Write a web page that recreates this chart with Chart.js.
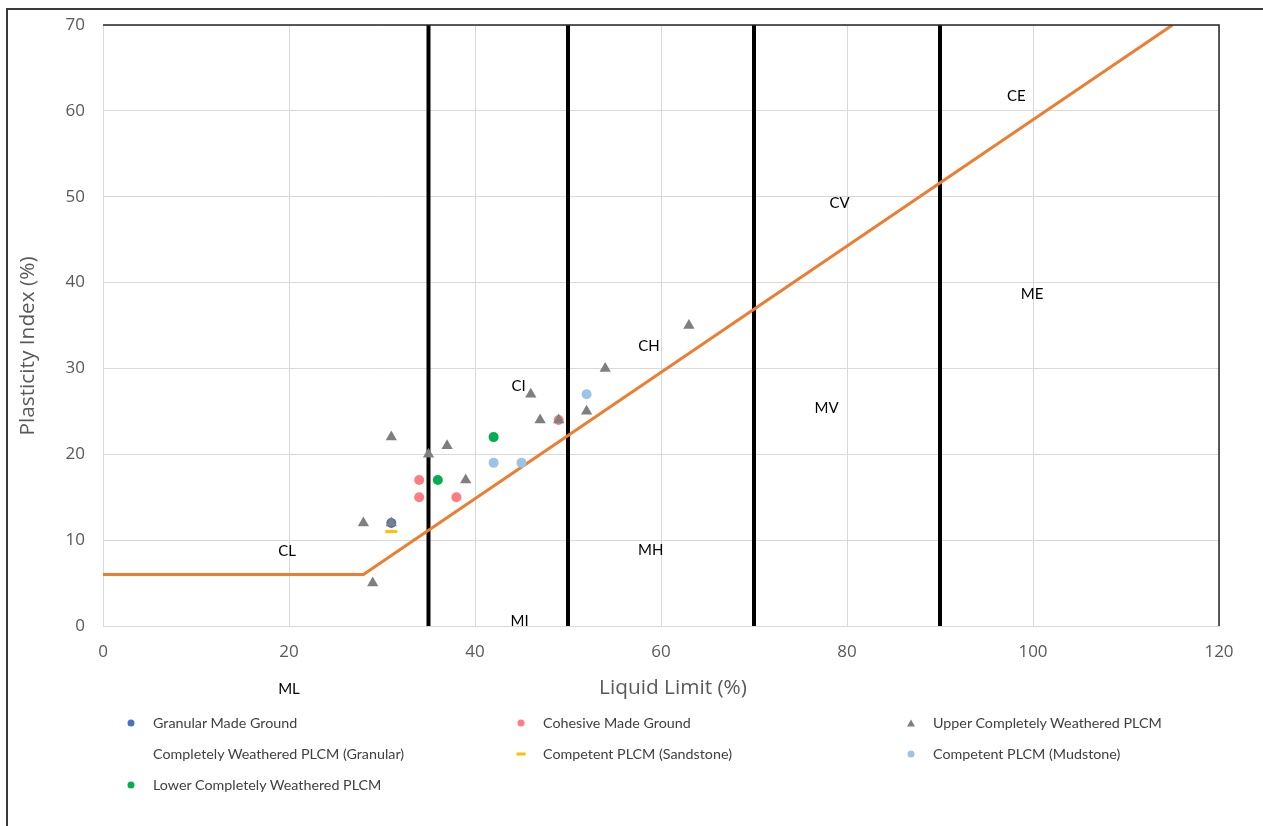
<!DOCTYPE html>
<html>
<head>
<meta charset="utf-8">
<script src="https://cdn.jsdelivr.net/npm/chart.js@4.4.1/dist/chart.umd.min.js"></script>
<style>
  html, body { margin: 0; padding: 0; background: #fff; width: 1263px; height: 826px; overflow: hidden; }
  #frame { position: absolute; left: 6px; top: 8px; width: 1400px; height: 1000px;
           border-left: 2px solid #3a3a3a; border-top: 2px solid #3a3a3a; }
  #wrap { position: absolute; left: 0; top: 0; width: 1263px; height: 720px; }
  #legend { position: absolute; left: 0; top: 0; width: 1263px; height: 826px;
            font-family: Lato, "Open Sans", sans-serif; font-size: 14.3px; color: #404040; pointer-events: none; }
  .lab { position: absolute; white-space: nowrap; line-height: 16px; transform: translateY(-50%); }
  .mk { position: absolute; transform: translate(-50%, -50%); }
  .dot { width: 7px; height: 7px; border-radius: 50%; }
  .tri { width: 0; height: 0; border-left: 4px solid transparent; border-right: 4px solid transparent; border-bottom: 7px solid #7f7f7f; }
  .dash { width: 9px; height: 3px; }
</style>
</head>
<body>
<div id="frame"></div>
<div id="wrap"><canvas id="c"></canvas></div>
<div id="legend"></div>
<script>
// Liquid limit (x) and plasticity index (y) for each sample group
const seriesNames = [
  'Granular Made Ground',
  'Cohesive Made Ground',
  'Upper Completely Weathered PLCM',
  'Completely Weathered PLCM (Granular)',
  'Competent PLCM (Sandstone)',
  'Competent PLCM (Mudstone)',
  'Lower Completely Weathered PLCM'
];

const granularMadeGroundLL = [31];
const granularMadeGroundPI = [12];

const cohesiveMadeGroundLL = [34, 34, 38, 49];
const cohesiveMadeGroundPI = [17, 15, 15, 24];

const upperCwLL = [28, 29, 31, 31, 35, 37, 39, 46, 47, 49, 52, 54, 63];
const upperCwPI = [12, 5, 12, 22, 20, 21, 17, 27, 24, 24, 25, 30, 35];

const cwGranularLL = [];
const cwGranularPI = [];

const sandstoneLL = [31];
const sandstonePI = [11];

const mudstoneLL = [42, 45, 52];
const mudstonePI = [19, 19, 27];

const lowerCwLL = [36, 42];
const lowerCwPI = [17, 22];

// A-line of the plasticity chart
const aLineLL = [0, 28, 115];
const aLinePI = [6, 6, 70];

// Liquid limit boundaries between plasticity classes
const boundaryLL = [35, 50, 70, 90];

// Zone labels (text, liquid limit, plasticity index)
const zoneText = ['CL', 'ML', 'CI', 'MI', 'CH', 'MH', 'CV', 'MV', 'CE', 'ME'];
const zoneLL   = [19.8, 20, 44.7, 44.8, 58.7, 58.9, 79.2, 77.8, 98.2, 99.9];
const zonePI   = [8.7, -7.4, 27.9, 0.6, 32.6, 8.8, 49.3, 25.4, 61.7, 38.7];

const xTitle = 'Liquid Limit (%)';
const yTitle = 'Plasticity Index (%)';

const pts = (xs, ys) => xs.map((x, i) => ({ x: x, y: ys[i] }));

const markerStyles = [
  { color: '#4472C4', style: 'circle', radius: 5, kind: 'dot' },
  { color: '#FF7C80', style: 'circle', radius: 5, kind: 'dot' },
  { color: '#7F7F7F', style: 'triangle', radius: 6.5, kind: 'tri' },
  { color: '#A5A5A5', style: 'circle', radius: 5, kind: 'none' },
  { color: '#FFC000', style: 'line', radius: 6, kind: 'dash' },
  { color: '#9DC3E6', style: 'circle', radius: 5, kind: 'dot' },
  { color: '#00B050', style: 'circle', radius: 5, kind: 'dot' }
];
const seriesData = [
  pts(granularMadeGroundLL, granularMadeGroundPI),
  pts(cohesiveMadeGroundLL, cohesiveMadeGroundPI),
  pts(upperCwLL, upperCwPI),
  pts(cwGranularLL, cwGranularPI),
  pts(sandstoneLL, sandstonePI),
  pts(mudstoneLL, mudstonePI),
  pts(lowerCwLL, lowerCwPI)
];

const datasets = [];
// boundary lines at the back
boundaryLL.forEach((ll) => {
  datasets.push({
    type: 'line', label: 'LL ' + ll,
    data: [{ x: ll, y: 0 }, { x: ll, y: 70 }],
    borderColor: '#000', borderWidth: 4, pointRadius: 0, fill: false, order: 20
  });
});
datasets.push({
  type: 'line', label: 'A-line', data: pts(aLineLL, aLinePI),
  borderColor: '#ED7D31', borderWidth: 3, pointRadius: 0, fill: false, tension: 0, order: 15
});
// later series are drawn over earlier ones
seriesNames.forEach((name, i) => {
  const m = markerStyles[i];
  datasets.push({
    type: 'scatter', label: name, data: seriesData[i],
    pointStyle: m.style, pointRadius: m.radius,
    backgroundColor: m.color, borderColor: m.color,
    borderWidth: m.style === 'line' ? 3 : 0,
    order: 10 - i
  });
});

const FONT = 'Lato, "Open Sans", sans-serif';
const AXFONT = '"Open Sans", Lato, sans-serif';

const decor = {
  id: 'decor',
  afterDraw(chart) {
    const { ctx, chartArea: a, scales: { x, y } } = chart;
    ctx.save();
    // top and right frame of the plot area
    ctx.strokeStyle = '#262626';
    ctx.lineWidth = 1.5;
    ctx.beginPath();
    ctx.moveTo(a.left, a.top);
    ctx.lineTo(a.right, a.top);
    ctx.lineTo(a.right, a.bottom);
    ctx.stroke();
    // zone labels
    ctx.fillStyle = '#000';
    ctx.font = '15px ' + FONT;
    ctx.textAlign = 'center';
    ctx.textBaseline = 'middle';
    zoneText.forEach((t, i) => {
      ctx.fillText(t, x.getPixelForValue(zoneLL[i]), y.getPixelForValue(zonePI[i]));
    });
    // axis titles
    ctx.fillStyle = '#595959';
    ctx.font = '20.8px ' + AXFONT;
    ctx.fillText(xTitle, 673, 688);
    ctx.translate(28, 346);
    ctx.rotate(-Math.PI / 2);
    ctx.fillText(yTitle, 0, 0);
    ctx.restore();
  }
};

new Chart(document.getElementById('c'), {
  data: { datasets: datasets },
  options: {
    responsive: true,
    maintainAspectRatio: false,
    devicePixelRatio: 1,
    animation: false,
    layout: { padding: { top: 25, right: 44, left: 0, bottom: 0 } },
    plugins: { legend: { display: false }, tooltip: { enabled: false } },
    scales: {
      x: {
        type: 'linear', min: 0, max: 120,
        ticks: { stepSize: 20, padding: 16, color: '#595959', font: { family: AXFONT, size: 17 } },
        grid: { color: '#D9D9D9', lineWidth: 1, drawTicks: false },
        border: { color: '#D9D9D9' },
        afterFit(s) { s.height = 94; s.paddingLeft = 0; s.paddingRight = 0; }
      },
      y: {
        type: 'linear', min: 0, max: 70,
        ticks: { stepSize: 10, padding: 18, color: '#595959', font: { family: AXFONT, size: 17 } },
        grid: { color: '#D9D9D9', lineWidth: 1, drawTicks: false },
        border: { color: '#D9D9D9' },
        afterFit(s) { s.width = 103; s.paddingTop = 0; s.paddingBottom = 0; }
      }
    }
  },
  plugins: [decor]
});

// legend laid out in three columns
const legend = document.getElementById('legend');
const colX = [131, 521, 911];
const rowY = [723, 754, 785];
seriesNames.forEach((name, i) => {
  const col = i % 3, row = Math.floor(i / 3);
  const m = markerStyles[i];
  if (m.kind !== 'none') {
    const mk = document.createElement('div');
    mk.className = 'mk ' + m.kind;
    mk.style.left = colX[col] + 'px';
    mk.style.top = rowY[row] + 'px';
    if (m.kind !== 'tri') mk.style.background = m.color;
    legend.appendChild(mk);
  }
  const lab = document.createElement('div');
  lab.className = 'lab';
  lab.textContent = name;
  lab.style.left = (colX[col] + 22) + 'px';
  lab.style.top = rowY[row] + 'px';
  legend.appendChild(lab);
});
</script>
</body>
</html>
